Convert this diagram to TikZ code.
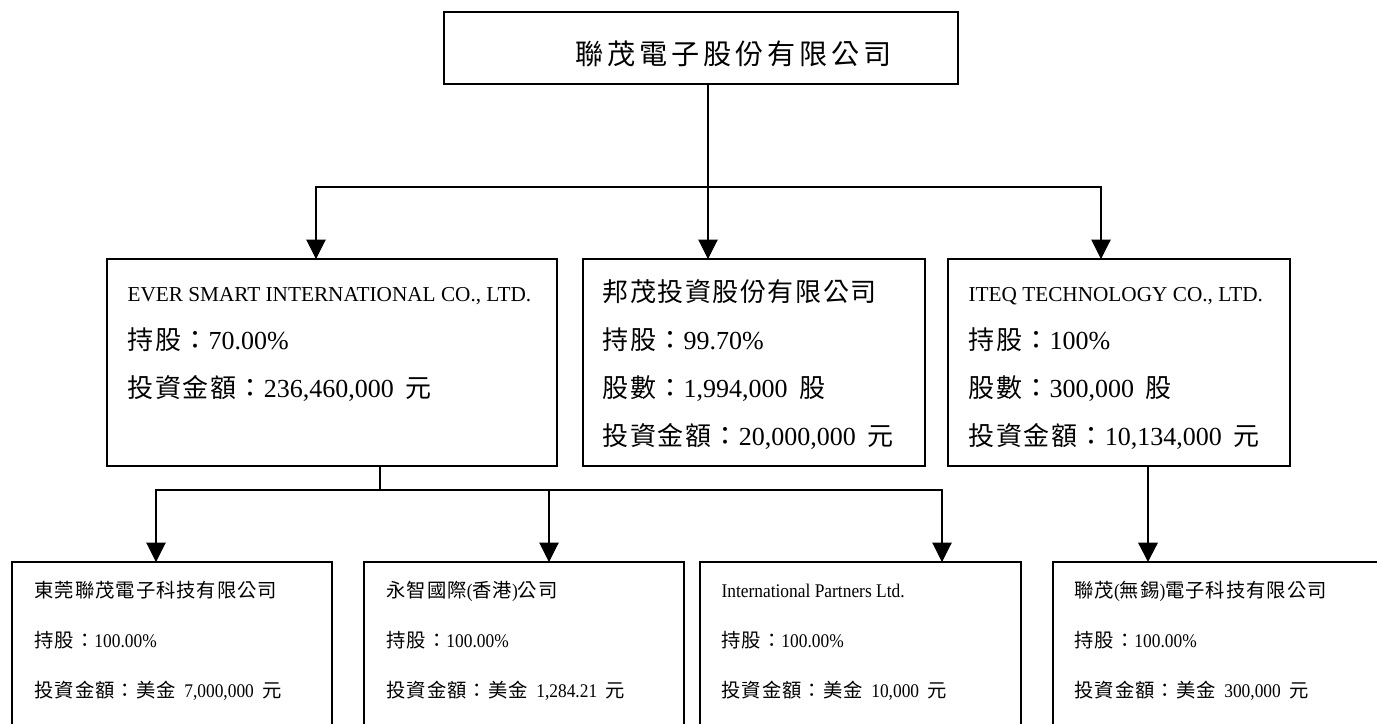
\documentclass[tikz,border=0pt]{standalone}
\usepackage{fontspec}
\setmainfont{Liberation Serif}
\newfontfamily\narrowserif[FakeStretch=0.9]{Liberation Serif}
\newfontfamily\cjkfont[LetterSpace=6]{Noto Sans CJK TC}
\newfontfamily\cjksmall[LetterSpace=5]{Noto Sans CJK TC}
\newfontfamily\cjkwide[LetterSpace=14]{Noto Sans CJK TC}
\usepackage{tikz}
\usetikzlibrary{fit}
\usetikzlibrary{calc}
\usetikzlibrary{arrows.meta}
\newcommand{\zh}[1]{{\cjkfont #1}}
\newcommand{\zs}[1]{{\cjksmall #1}}
\newcommand{\gap}{\hspace{0.45em}}
\newcommand{\midsize}{\fontsize{14.8}{27.3}\selectfont}
\newcommand{\namesize}{\fontsize{12.1}{27.3}\selectfont}
\newcommand{\lowsize}{\fontsize{11}{28.5}\selectfont\narrowserif}

\begin{document}
\begin{tikzpicture}[x=0.02cm, y=-0.02cm,
    box/.style={draw, line width=0.9pt, inner sep=0pt},
    txt/.style={inner sep=0pt, anchor=base west},
    link/.style={line width=0.6pt},
    arrow/.style={link, -{Triangle[width=11pt,length=11pt]}}]
  \useasboundingbox (0,0) rectangle (1377,724);
  \clip (0,0) rectangle (1377,724);

  % parent
  \node[box, fit={(444,12) (958,84)}] (top) {};
  \node[txt, font=\fontsize{16}{20}\selectfont\cjkwide] (topT) at (575,64) {聯茂電子股份有限公司};

  % first level
  \node[box, fit={(107,259) (557,466)}] (esi) {};
  \node[box, fit={(583,259) (925,466)}] (bang) {};
  \node[box, fit={(948,259) (1290,466)}] (iteq) {};

  \node[txt, font=\midsize] (esiT) at ($(esi.north west)+(21,43)$) {\begin{tabular}[t]{@{}l@{}}
    {\namesize EVER SMART INTERNATIONAL CO., LTD.}\\
    \zh{持股：}70.00\%\\
    \zh{投資金額：}236,460,000\gap\zh{元}\end{tabular}};
  \node[txt, font=\midsize] (bangT) at ($(bang.north west)+(20,43)$) {\begin{tabular}[t]{@{}l@{}}
    \zh{邦茂投資股份有限公司}\\
    \zh{持股：}99.70\%\\
    \zh{股數：}1,994,000\gap\zh{股}\\
    \zh{投資金額：}20,000,000\gap\zh{元}\end{tabular}};
  \node[txt, font=\midsize] (iteqT) at ($(iteq.north west)+(21,43)$) {\begin{tabular}[t]{@{}l@{}}
    {\namesize ITEQ TECHNOLOGY CO., LTD.}\\
    \zh{持股：}100\%\\
    \zh{股數：}300,000\gap\zh{股}\\
    \zh{投資金額：}10,134,000\gap\zh{元}\end{tabular}};

  % second level
  \node[box, fit={(12,562) (332,745)}] (dg) {};
  \node[box, fit={(364,562) (684,745)}] (hk) {};
  \node[box, fit={(700,562) (1021,745)}] (ip) {};
  \node[box, fit={(1053,562) (1400,745)}] (wx) {};

  \node[txt, font=\lowsize] (dgT) at ($(dg.north west)+(23,36)$) {\begin{tabular}[t]{@{}l@{}}
    \zs{東莞聯茂電子科技有限公司}\\
    \zs{持股：}100.00\%\\
    \zs{投資金額：美金}\gap7,000,000\gap\zs{元}\end{tabular}};
  \node[txt, font=\lowsize] (hkT) at ($(hk.north west)+(23,36)$) {\begin{tabular}[t]{@{}l@{}}
    \zs{永智國際}(\zs{香港})\zs{公司}\\
    \zs{持股：}100.00\%\\
    \zs{投資金額：美金}\gap1,284.21\gap\zs{元}\end{tabular}};
  \node[txt, font=\lowsize] (ipT) at ($(ip.north west)+(22,36)$) {\begin{tabular}[t]{@{}l@{}}
    International Partners Ltd.\\
    \zs{持股：}100.00\%\\
    \zs{投資金額：美金}\gap10,000\gap\zs{元}\end{tabular}};
  \node[txt, font=\lowsize] (wxT) at ($(wx.north west)+(22,36)$) {\begin{tabular}[t]{@{}l@{}}
    \zs{聯茂}(\zs{無錫})\zs{電子科技有限公司}\\
    \zs{持股：}100.00\%\\
    \zs{投資金額：美金}\gap300,000\gap\zs{元}\end{tabular}};

  % connectors
  \coordinate (hub) at (708,187);
  \coordinate (esiIn) at (316,259);
  \coordinate (bangIn) at (708,259);
  \coordinate (iteqIn) at (1101,259);
  \draw[link] (top.south -| hub) -- (hub);
  \draw[arrow] (hub) -| (esiIn);
  \draw[arrow] (hub) -- (bangIn);
  \draw[arrow] (hub) -| (iteqIn);

  \coordinate (hubLow) at (380,490);
  \coordinate (dgIn) at (156,562);
  \coordinate (hkIn) at (549,562);
  \coordinate (ipIn) at (942,562);
  \coordinate (wxIn) at (1148,562);
  \draw[link] (esi.south -| hubLow) -- (hubLow);
  \draw[arrow] (hubLow) -| (dgIn);
  \draw[arrow] (hubLow) -| (hkIn);
  \draw[arrow] (hubLow) -| (ipIn);
  \draw[arrow, line width=1.3pt] (iteq.south -| wxIn) -- (wxIn);
\end{tikzpicture}
\end{document}
